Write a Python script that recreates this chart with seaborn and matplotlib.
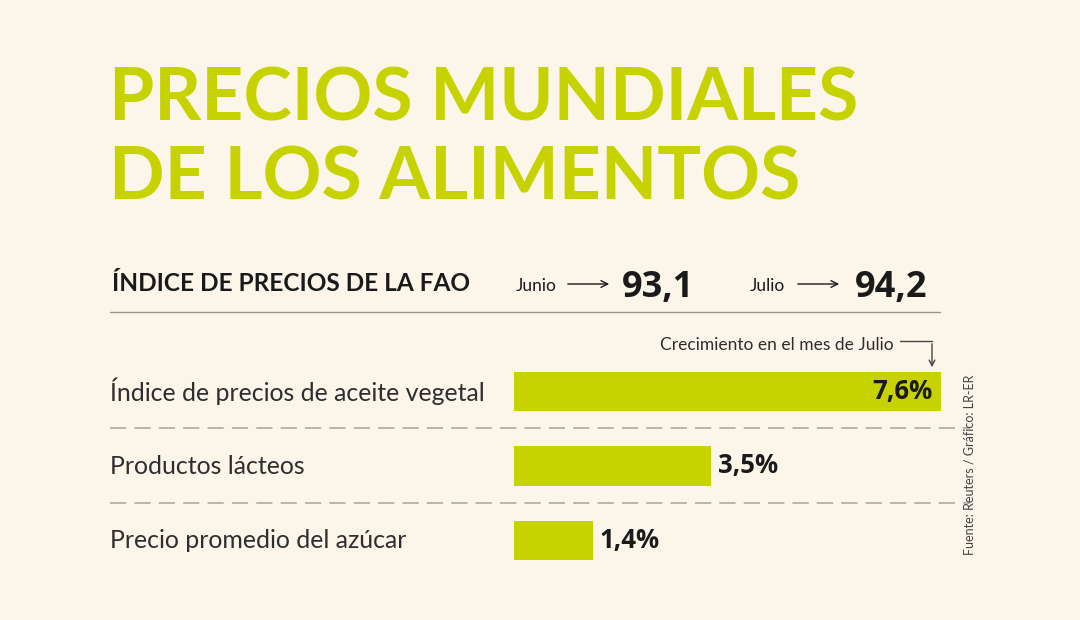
import matplotlib
matplotlib.use("Agg")
import matplotlib.pyplot as plt
from matplotlib.lines import Line2D
from matplotlib.patches import FancyArrowPatch
import seaborn as sns
import pandas as pd

# ---- data ----
categories = ["Índice de precios de aceite vegetal", "Productos lácteos", "Precio promedio del azúcar"]
growth = [7.6, 3.5, 1.4]
value_labels = ["7,6%", "3,5%", "1,4%"]
title_lines = ["PRECIOS MUNDIALES", "DE LOS ALIMENTOS"]
header_label = "ÍNDICE DE PRECIOS DE LA FAO"
months = ["Junio", "Julio"]
month_values = ["93,1", "94,2"]
annotation_text = "Crecimiento en el mes de Julio"
source_text = "Fuente: Reuters / Gráfico: LR-ER"

BG = "#FCF6EA"
GREEN = "#C6D300"
DARK = "#1A1A1A"
GREY_TXT = "#2E2E2E"

sns.set_theme(style="white")
plt.rcParams["font.family"] = ["Lato", "DejaVu Sans"]

W, H = 1080, 620
fig = plt.figure(figsize=(W / 100, H / 100), dpi=100, facecolor=BG)

def fx(px):
    return px / W

def fy(py):
    return 1 - py / H

# bar axes: data 0 at x=514px, 56.2 px per unit
x0, x1 = 514, 970
px_per_unit = 56.2
y_top, y_bot = 354, 578  # index -0.5 .. 2.5
ax = fig.add_axes([fx(x0), fy(y_bot), fx(x1 - x0), (y_bot - y_top) / H])
ax.set_facecolor("none")

df = pd.DataFrame({"cat": categories, "val": growth})
sns.barplot(data=df, x="val", y="cat", orient="h", color=GREEN, width=0.53,
            saturation=1, ax=ax, edgecolor="none")
ax.set_xlim(0, (x1 - x0) / px_per_unit)
ax.set_ylim(2.5, -0.5)
ax.axis("off")

# value labels
open_sans = ["Open Sans", "DejaVu Sans"]
for i, (v, lab) in enumerate(zip(growth, value_labels)):
    if i == 0:
        ax.text(v - 0.16, i, lab, ha="right", va="center", fontsize=18.5,
                fontweight="bold", color=DARK, family=open_sans)
    else:
        ax.text(v + 0.13, i, lab, ha="left", va="center", fontsize=18.5,
                fontweight="bold", color=DARK, family=open_sans)

# category labels
for i, c in enumerate(categories):
    ypx = 391.5 + i * 74.5
    fig.text(fx(110), fy(ypx), c, ha="left", va="center", fontsize=17.9,
             color=GREY_TXT, family=["Lato", "DejaVu Sans"], fontweight="normal")

# dashed separators
for ypx in [428, 503]:
    fig.add_artist(Line2D([fx(110), fx(970)], [fy(ypx), fy(ypx)], transform=fig.transFigure,
                          color="#B5B0A6", lw=1.3, linestyle=(0, (9, 4.5))))

# solid rule under header
fig.add_artist(Line2D([fx(110), fx(940)], [fy(312), fy(312)], transform=fig.transFigure,
                      color="#9A968E", lw=1.0))

# title
for j, t in enumerate(title_lines):
    fig.text(fx(109), fy(120 + j * 80), t, ha="left", va="baseline", fontsize=52.7,
             fontweight="bold", color=GREEN, family=["Lato", "DejaVu Sans"])

# header row
fig.text(fx(112), fy(291), header_label, ha="left", va="baseline", fontsize=17.6,
         fontweight="bold", color=DARK)
for mx, m, val, arrow_x0, arrow_x1, vx in [(516, months[0], month_values[0], 565, 612, 622),
                                            (750, months[1], month_values[1], 795, 842, 855)]:
    fig.text(fx(mx), fy(291), m, ha="left", va="baseline", fontsize=12.5,
             color=DARK, fontweight="normal")
    fig.add_artist(FancyArrowPatch(
        (fx(arrow_x0), fy(284)), (fx(arrow_x1), fy(284)), transform=fig.transFigure,
        arrowstyle="->", mutation_scale=12, lw=1.0, color=DARK))
    fig.text(fx(vx), fy(297), val, ha="left", va="baseline", fontsize=26,
             fontweight="bold", color=DARK, family=open_sans)

# annotation
fig.text(fx(660), fy(350), annotation_text, ha="left", va="baseline", fontsize=12.5,
         color=GREY_TXT)
fig.add_artist(Line2D([fx(900), fx(932)], [fy(341), fy(341)], transform=fig.transFigure,
                      color="#444444", lw=1.0))
fig.add_artist(FancyArrowPatch(
    (fx(932), fy(341)), (fx(932), fy(370)), transform=fig.transFigure,
    arrowstyle="->", mutation_scale=10, lw=1.0, color="#444444"))

# source
fig.text(fx(970), fy(465), source_text, ha="center", va="center", rotation=90,
         fontsize=9, color="#444444", family=["Liberation Sans Narrow", "Lato", "DejaVu Sans"])

fig.savefig("out.png", dpi=100, facecolor=BG)
